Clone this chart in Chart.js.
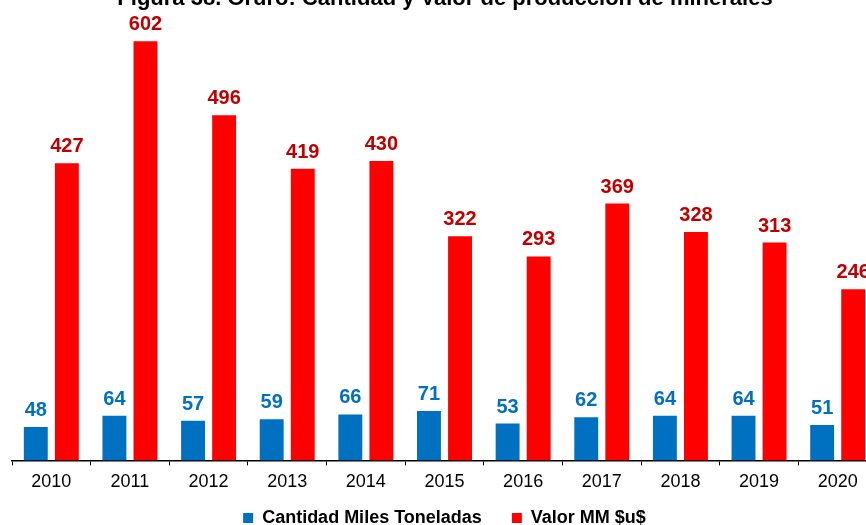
<!DOCTYPE html>
<html>
<head>
<meta charset="utf-8">
<script src="https://cdn.jsdelivr.net/npm/chart.js@4"></script>
<style>
  html, body { margin: 0; padding: 0; background: #fff; overflow: hidden; }
  #wrap { position: absolute; left: 0; top: 0; width: 880px; height: 525px; }
</style>
</head>
<body>
<div id="wrap"><canvas id="bar"></canvas></div>
<script>
const years = ['2010', '2011', '2012', '2013', '2014', '2015', '2016', '2017', '2018', '2019', '2020'];
const cantidad = [48, 64, 57, 59, 66, 71, 53, 62, 64, 64, 51];
const valor = [427, 602, 496, 419, 430, 322, 293, 369, 328, 313, 246];
const titleText = 'Figura 38. Oruro: Cantidad y Valor de producción de minerales';

const FONT = "'Liberation Sans', Arial, sans-serif";

// labels above the bars, and the title cut at the top edge
const valueLabels = {
    id: 'valueLabels',
    afterDatasetsDraw(chart) {
        const ctx = chart.ctx;
        ctx.save();
        ctx.font = 'bold 20px ' + FONT;
        ctx.textAlign = 'center';
        ctx.textBaseline = 'alphabetic';
        chart.data.datasets.forEach((ds, i) => {
            chart.getDatasetMeta(i).data.forEach((bar, j) => {
                ctx.fillStyle = ds.labelColor;
                ctx.fillText(ds.data[j], bar.x, bar.y - 11);
            });
        });
        ctx.font = 'bold 22px ' + FONT;
        ctx.fillStyle = '#000';
        ctx.fillText(titleText, 445, 5);
        ctx.restore();
    }
};

function fillBar() {
    const ctx = document.getElementById('bar').getContext('2d');
    const chart = new Chart(ctx, {
        type: 'bar',
        data: {
            labels: years,
            datasets: [
                {
                    label: 'Cantidad Miles Toneladas    ',
                    data: cantidad,
                    backgroundColor: '#0070C0',
                    labelColor: '#0070C0',
                    categoryPercentage: 0.79,
                    barPercentage: 0.77
                },
                {
                    label: 'Valor MM $u$',
                    data: valor,
                    backgroundColor: '#FF0000',
                    labelColor: '#C00000',
                    categoryPercentage: 0.79,
                    barPercentage: 0.77
                }
            ]
        },
        options: {
            responsive: true,
            maintainAspectRatio: false,
            animation: false,
            layout: { padding: { left: 12, right: 3, top: 1, bottom: -12 } },
            scales: {
                x: {
                    grid: {
                        display: true,
                        drawOnChartArea: false,
                        drawTicks: true,
                        tickLength: 5,
                        color: '#000',
                        lineWidth: 1
                    },
                    border: { display: true, color: '#000', width: 1.5 },
                    ticks: {
                        color: '#000',
                        padding: 6,
                        font: { family: FONT, size: 18 }
                    }
                },
                y: {
                    display: false,
                    min: 0,
                    max: 660
                }
            },
            plugins: {
                legend: {
                    display: true,
                    position: 'bottom',
                    labels: {
                        color: '#000',
                        boxWidth: 10,
                        boxHeight: 10,
                        padding: 10,
                        font: { family: FONT, size: 18, weight: 'bold' }
                    }
                },
                tooltip: { enabled: false }
            }
        },
        plugins: [valueLabels]
    });
    return chart;
}

fillBar();
</script>
</body>
</html>
